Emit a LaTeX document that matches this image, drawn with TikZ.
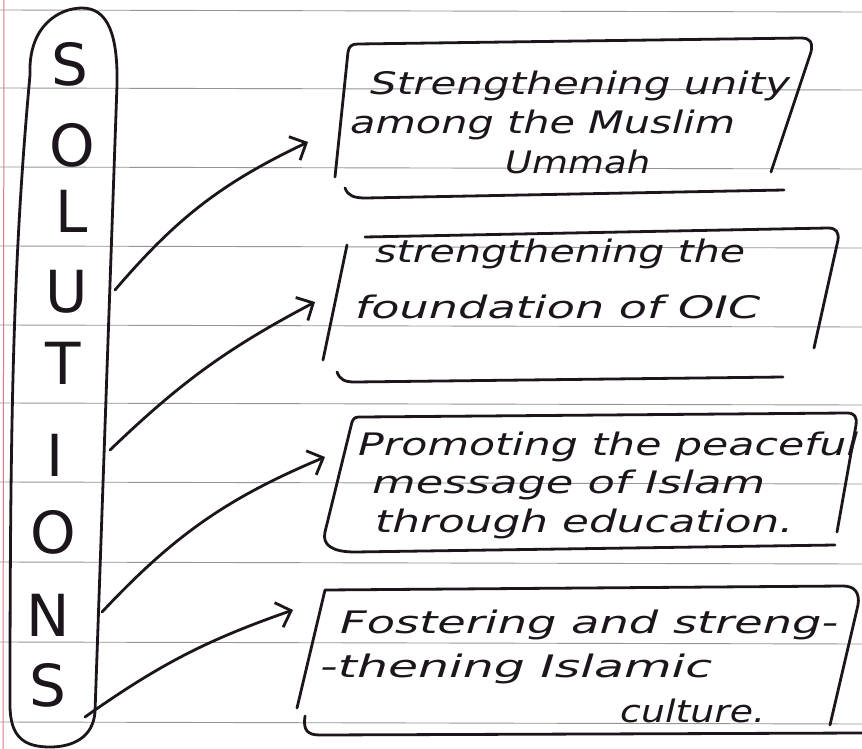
\documentclass[tikz,border=0pt]{standalone}
\usepackage{fontspec}
\usepackage{graphicx}
\usetikzlibrary{arrows.meta}
\newfontfamily\handfont{DejaVu Sans}
\newfontfamily\letterfont{DejaVu Sans}
\newcommand\fitw[2]{\resizebox{#1pt}{\height}{#2}}
\definecolor{inkc}{RGB}{28,22,28}
\definecolor{rulec}{RGB}{150,148,150}
\definecolor{marginc}{RGB}{220,120,140}
\begin{document}
\begin{tikzpicture}[x=1pt,y=-1pt,
  ink/.style={line width=2.8pt, line cap=round, line join=round, draw=inkc},
  hand/.style={font=\handfont\itshape\fontsize{31}{38}\selectfont, text=inkc, inner sep=0pt, anchor=base west},
  letter/.style={font=\letterfont\fontsize{58}{58}\selectfont, text=inkc, inner sep=0pt},
  paperrule/.style={draw=rulec, line width=0.9pt},
  conn/.style={ink, -{Straight Barb[length=13pt,width=26pt,line width=2.8pt]}}]
\useasboundingbox (0,0) rectangle (862,749);
\fill[white] (0,0) rectangle (862,749);
% lined paper
\foreach \yy in {10,88,167,246,325,403,482,562,642,722}
  \draw[paperrule] (0,\yy) -- (862,\yy+2);
\draw[draw=marginc, line width=1pt] (4,0) -- (3,749);

% capsule with SOLUTIONS
\draw[ink] (30,75) .. controls (28,25) and (60,8) .. (82,8)
  .. controls (108,8) and (118,35) .. (117,85) -- (95,712)
  .. controls (93,738) and (72,747) .. (50,747)
  .. controls (25,747) and (10,738) .. (10,705)
  .. controls (10,400) and (14,250) .. (30,75);
\node[letter] (l1) at (70,64) {S};
\node[letter] (l2) at (72,145) {O};
\node[letter] (l3) at (72,211) {L};
\node[letter] (l4) at (67,292) {U};
\node[letter] (l5) at (63,363) {T};
\node[letter] (l6) at (55,455) {I};
\node[letter] (l7) at (53,532) {O};
\node[letter] (l8) at (48,615) {N};
\node[letter] (l9) at (48,685) {S};

% arrow anchors
\coordinate (sU) at (115,290);
\coordinate (sI) at (110,450);
\coordinate (sN) at (102,612);
\coordinate (sS) at (85,717);
\coordinate (e1) at (308,142);
\coordinate (e2) at (315,302);
\coordinate (e3) at (325,457);
\coordinate (e4) at (293,610);

% box 1
\draw[ink] (335,177) -- (348,52) .. controls (349,46) and (352,44) .. (358,44)
  -- (801,38) .. controls (810,38) and (813,42) .. (811,52) -- (771,172);
\draw[ink] (345,188) .. controls (348,196) and (354,198) .. (366,198) -- (784,190);
\node[hand] (t1a) at (370,95) {\fitw{420}{Strengthening unity}};
\node[hand] (t1b) at (350,134) {\fitw{385}{among the Muslim}};
\node[hand] (t1c) at (505,174) {\fitw{145}{Ummah}};

% box 2
\draw[ink] (323,360) -- (347,245);
\draw[ink] (365,237) -- (828,228) .. controls (836,228) and (839,232) .. (838,240) -- (814,348);
\draw[ink] (337,372) .. controls (340,380) and (345,382) .. (355,382) -- (783,377);
\node[hand] (t2a) at (375,262) {\fitw{370}{strengthening the}};
\node[hand] (t2b) at (355,318) {\fitw{405}{foundation of OIC}};

% box 3
\draw[ink] (352,422) .. controls (354,417) and (356,417) .. (362,417) -- (847,413)
  .. controls (855,413) and (857,417) .. (856,425) -- (837,532);
\draw[ink] (352,422) -- (325,532) .. controls (322,545) and (332,552) .. (355,552) -- (835,545);
\node[hand] (t3a) at (358,455) {\fitw{500}{Promoting the peaceful}};
\node[hand] (t3b) at (372,493) {\fitw{393}{message of Islam}};
\node[hand] (t3c) at (375,532) {\fitw{418}{through education.}};

% box 4
\draw[ink] (297,708) -- (325,590) -- (843,586) .. controls (854,586) and (860,592) .. (858,605) -- (830,725);
\draw[ink] (305,716) .. controls (303,730) and (307,735) .. (320,735) -- (862,733);
\node[hand] (t4a) at (340,633) {\fitw{498}{Fostering and streng-}};
\node[hand] (t4b) at (320,677) {\fitw{392}{-thening Islamic}};
\node[hand] (t4c) at (620,722) {\fitw{145}{culture.}};

% connectors
\draw[conn] (sU) to[bend left=12] (e1);
\draw[conn] (sI) to[bend left=8] (e2);
\draw[conn] (sN) to[bend left=12] (e3);
\draw[conn] (sS) to[bend left=8] (e4);
\end{tikzpicture}
\end{document}
